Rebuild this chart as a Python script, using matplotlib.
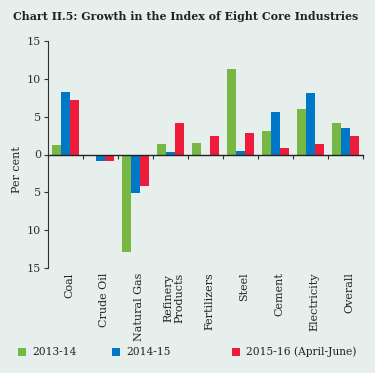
import matplotlib
matplotlib.use("Agg")
import matplotlib.pyplot as plt
import matplotlib.transforms as mtrans
from matplotlib.patches import Rectangle
import numpy as np

categories = ["Coal", "Crude Oil", "Natural Gas", "Refinery\nProducts", "Fertilizers",
              "Steel", "Cement", "Electricity", "Overall"]
s2013 = [1.3, -0.15, -12.9, 1.4, 1.5, 11.3, 3.1, 6.0, 4.2]
s2014 = [8.2, -0.9, -5.1, 0.3, -0.1, 0.5, 5.6, 8.1, 3.5]
s2015 = [7.2, -0.9, -4.1, 4.2, 2.4, 2.8, 0.9, 1.4, 2.4]
series_names = ["2013-14", "2014-15", "2015-16 (April-June)"]
yticks = [-15, -10, -5, 0, 5, 10, 15]
ytick_labels = ["15", "10", "5", "0", "5", "10", "15"]

bg = "#E6EFEC"
colors = ["#77B744", "#0078C8", "#EE1B3B"]
serif = ["DejaVu Serif"]

W, H = 375, 373
fig = plt.figure(figsize=(W / 100, H / 100), dpi=100, facecolor=bg)
ax = fig.add_axes([48 / W, 1 - 268 / H, (363 - 48) / W, (268 - 41) / H], facecolor=bg)

n = len(categories)
x = np.arange(n)
bw = 0.25
for i, (vals, c) in enumerate(zip([s2013, s2014, s2015], colors)):
    ax.bar(x + (i - 1) * bw, vals, width=bw, color=c, linewidth=0)

ax.set_xlim(-0.5, n - 0.5)
ax.set_ylim(-15, 15)
ax.set_yticks(yticks)
ax.set_yticklabels(ytick_labels, fontsize=8, family=serif, color="#222222")
ax.tick_params(axis="y", direction="out", length=3, width=0.8, pad=2, colors="#333333")

for s in ["top", "right"]:
    ax.spines[s].set_visible(False)
ax.spines["left"].set_color("#333333")
ax.spines["left"].set_linewidth(0.8)
ax.spines["bottom"].set_position(("data", 0))
ax.spines["bottom"].set_color("#222222")
ax.spines["bottom"].set_linewidth(1.0)
ax.set_xticks(np.arange(n + 1) - 0.5)
ax.set_xticklabels([])
ax.tick_params(axis="x", direction="out", length=3, width=0.8, colors="#333333")

trans = mtrans.blended_transform_factory(ax.transData, ax.transAxes)
for xi, lab in zip(x, categories):
    ax.text(xi + 0.1, -0.02, lab, transform=trans, rotation=90, ha="center", va="top",
            fontsize=8, family=serif, color="#222222", linespacing=1.05, multialignment="center")

fig.text(17 / W, 1 - 170 / H, "Per cent", rotation=90, ha="center", va="center",
         fontsize=8, family=serif, color="#222222")

fig.text(186 / W, 1 - 16 / H, "Chart II.5: Growth in the Index of Eight Core Industries",
         ha="center", va="center", fontsize=7.95, fontweight="bold", family=serif, color="#222222")

leg_x = [18, 112, 232]
for lx, name, c in zip(leg_x, series_names, colors):
    fig.patches.append(Rectangle((lx / W, 1 - 356 / H), 8 / W, 8 / H,
                                 transform=fig.transFigure, color=c, linewidth=0))
    fig.text((lx + 14) / W, 1 - 352 / H, name, ha="left", va="center",
             fontsize=7.7, family=serif, color="#222222")

fig.savefig("out.png", dpi=100, facecolor=bg)
